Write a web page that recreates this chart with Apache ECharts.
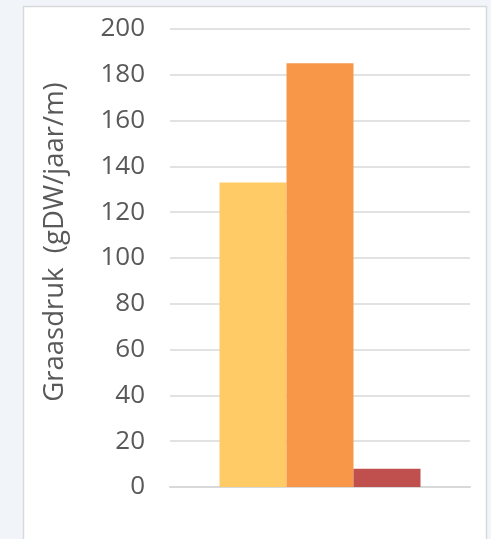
<!DOCTYPE html>
<html>
<head>
<meta charset="utf-8">
<script src="https://cdn.jsdelivr.net/npm/echarts@6/dist/echarts.min.js"></script>
<style>
html,body{margin:0;padding:0;background:#f1f5fa;}
#c{width:491px;height:539px;}
</style>
</head>
<body>
<div id="c"></div>
<script>
var categories = [''];
var seriesNames = ['A', 'B', 'C'];
var seriesValues = [[133], [185], [8]];
var seriesColors = ['#FECB66', '#F79747', '#C0504D'];
var yTicks = [0, 20, 40, 60, 80, 100, 120, 140, 160, 180, 200];
var yTitle = 'Graasdruk  (gDW/jaar/m)';

var chart = echarts.init(document.getElementById('c'), null, {renderer: 'canvas'});
var series = seriesValues.map(function (vals, i) {
  return {
    name: seriesNames[i],
    type: 'bar',
    data: vals,
    barGap: '0%',
    barCategoryGap: '33%',
    itemStyle: {color: seriesColors[i]}
  };
});
chart.setOption({
  backgroundColor: '#f1f5fa',
  animation: false,
  graphic: [{
    type: 'rect',
    z: -1,
    shape: {x: 23.5, y: 6.5, width: 463, height: 540},
    style: {fill: '#ffffff', stroke: '#d9d9d9', lineWidth: 1.5}
  }, {
    type: 'text',
    z: 5,
    x: 55,
    y: 242,
    rotation: Math.PI / 2,
    style: {
      text: yTitle,
      fill: '#595959',
      font: '27.5px "Open Sans"',
      align: 'center',
      verticalAlign: 'middle'
    }
  }],
  grid: {left: 170, right: 21, top: 29, bottom: 52},
  xAxis: {
    type: 'category',
    data: categories,
    axisLine: {show: true, lineStyle: {color: '#d9d9d9', width: 2}},
    axisTick: {show: false},
    axisLabel: {show: false}
  },
  yAxis: {
    type: 'value',
    min: yTicks[0],
    max: yTicks[yTicks.length - 1],
    interval: yTicks[1] - yTicks[0],
    axisLine: {show: false},
    axisTick: {show: false},
    splitLine: {lineStyle: {color: '#d9d9d9', width: 1.5}},
    axisLabel: {
      color: '#595959',
      fontFamily: 'Open Sans',
      fontSize: 26,
      margin: 25
    }
  },
  series: series
});
</script>
</body>
</html>
